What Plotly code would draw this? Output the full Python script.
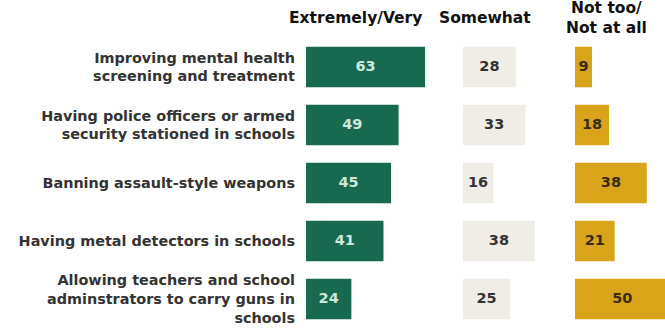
import plotly.graph_objects as go

categories = [
    "Improving mental health<br>screening and treatment",
    "Having police officers or armed<br>security stationed in schools",
    "Banning assault-style weapons",
    "Having metal detectors in schools",
    "Allowing teachers and school<br>adminstrators to carry guns in<br>schools",
]
series_names = ["Extremely/Very", "Somewhat", "Not too/<br>Not at all"]
extremely_very = [63, 49, 45, 41, 24]
somewhat = [28, 33, 16, 38, 25]
not_too = [9, 18, 38, 21, 50]

colors = ["#176a50", "#efede6", "#d9a31a"]
text_colors = ["#cfe8dc", "#333333", "#3a2e10"]

W, H = 665, 328
T = 38
S = 1.89  # px per unit
starts = [306, 463, 575]
ranges = [75, 58, (W - 575) / S]

fig = go.Figure()
series = [extremely_very, somewhat, not_too]
axes = ["x", "x2", "x3"]
for i, vals in enumerate(series):
    fig.add_trace(go.Bar(
        x=vals, y=categories, orientation="h",
        marker=dict(color=colors[i], line=dict(width=0)),
        xaxis=axes[i], yaxis="y", showlegend=False, hoverinfo="skip",
    ))
    fig.add_trace(go.Scatter(
        x=[v / 2 for v in vals], y=categories, mode="text",
        text=[str(v) for v in vals],
        textfont=dict(family="DejaVu Sans", size=14.5, color=text_colors[i], weight=700),
        xaxis=axes[i], yaxis="y", showlegend=False, hoverinfo="skip",
        cliponaxis=False,
    ))

layout = dict(
    width=W, height=H,
    margin=dict(l=0, r=0, t=T, b=0),
    paper_bgcolor="white", plot_bgcolor="white",
    bargap=0.3,
    yaxis=dict(
        autorange="reversed", showgrid=False, zeroline=False, showline=False,
        ticks="", ticklabelstandoff=10,
        tickfont=dict(family="DejaVu Sans", size=14.4, color="#333333", weight=600),
        anchor="x",
    ),
)
for i, ax in enumerate(["xaxis", "xaxis2", "xaxis3"]):
    d0 = starts[i] / W
    d1 = min(1.0, (starts[i] + ranges[i] * S) / W)
    layout[ax] = dict(domain=[d0, d1], range=[0, ranges[i]], visible=False,
                      fixedrange=True, anchor="y")
fig.update_layout(**layout)

header_x = [355, 485, 606]
header_y = [18, 18, 18]
for i, name in enumerate(series_names):
    fig.add_annotation(
        x=header_x[i] / W, y=(H - header_y[i]) / (H - T), xref="paper", yref="paper",
        text=name, showarrow=False, xanchor="center", yanchor="middle",
        font=dict(family="DejaVu Sans", size=15.5, color="#111111", weight=800),
        align="center",
    )

fig.write_html("out.html")
